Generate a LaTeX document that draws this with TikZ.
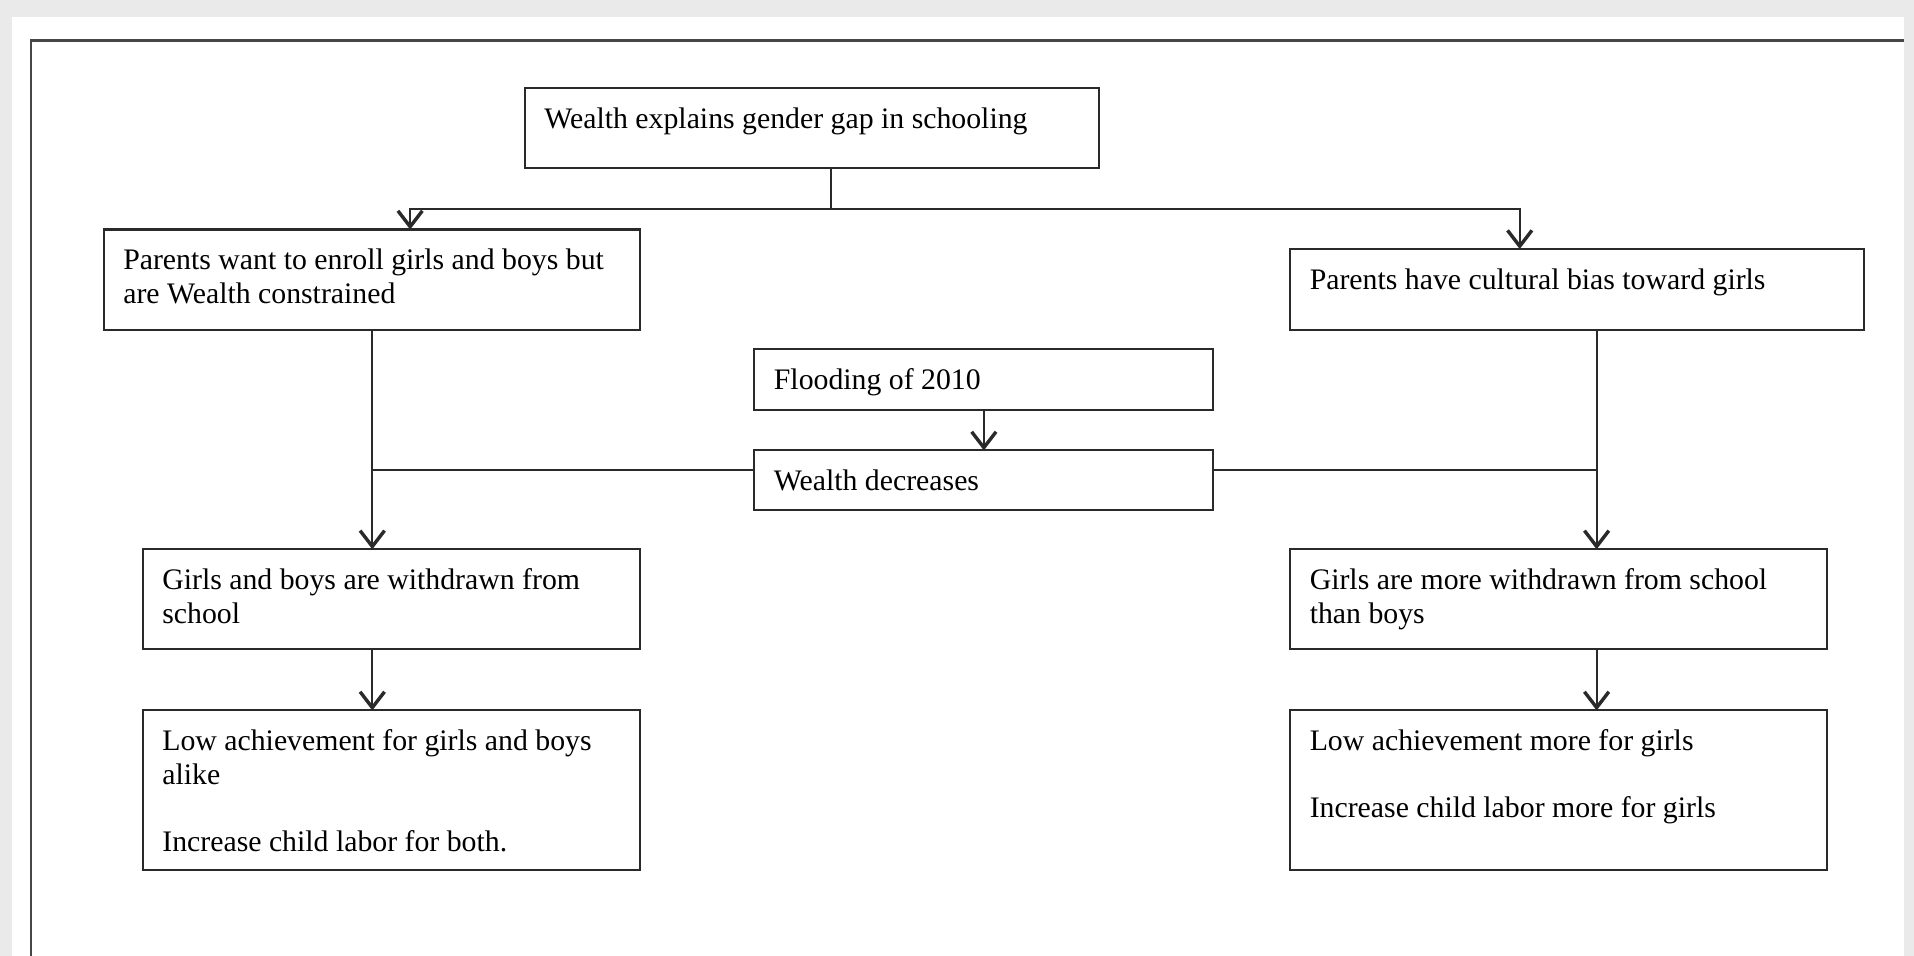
\documentclass[tikz,border=0pt]{standalone}
\usepackage{fontspec}
\setmainfont{Liberation Serif}
\usetikzlibrary{arrows.meta}
\definecolor{pagegray}{HTML}{EAEAEA}
\definecolor{ink}{HTML}{2A2A2A}
\newcommand{\boxtxt}[3]{\parbox[c][#2][t]{#1}{\raggedright\strut#3}}
\tikzset{
  flowbox/.style={draw=ink, line width=0.85pt, anchor=north west, inner xsep=8pt,
    inner ysep=7pt, outer sep=0pt, font=\fontsize{12.2}{13.7}\selectfont},
  link/.style={ink, line width=0.8pt},
  >={Straight Barb[length=6.5pt,width=10pt,line width=1.4pt]}
}
\begin{document}
\begin{tikzpicture}[x=0.5pt,y=-0.5pt]
\useasboundingbox (0,0) rectangle (1568,783);
\fill[pagegray] (0,0) rectangle (1568,783);
\fill[white] (10,14) rectangle (1560,783);
\draw[gray!55!black, line width=1pt] (25.5,783) -- (25.5,33) -- (1560,33);

\node[flowbox] (wealth) at (430,72) {\boxtxt{219pt}{19pt}{Wealth explains gender gap in schooling}};
\node[flowbox] (want) at (85,188) {\boxtxt{203.5pt}{27pt}{Parents want to enroll girls and boys but\\are Wealth constrained}};
\node[flowbox] (bias) at (1057,204) {\boxtxt{219pt}{19pt}{Parents have cultural bias toward girls}};
\node[flowbox] (flood) at (618,286) {\boxtxt{172pt}{11pt}{Flooding of 2010}};
\node[flowbox] (drop) at (618,369) {\boxtxt{172pt}{10.5pt}{Wealth decreases}};
\node[flowbox] (both) at (117,450) {\boxtxt{187.5pt}{27pt}{Girls and boys are withdrawn from\\school}};
\node[flowbox] (girls) at (1057,450) {\boxtxt{204pt}{27pt}{Girls are more withdrawn from school\\than boys}};
\node[flowbox] (lowboth) at (117,582) {\boxtxt{187.5pt}{51.5pt}{Low achievement for girls and boys\\alike\\[13.7pt]Increase child labor for both.}};
\node[flowbox] (lowgirls) at (1057,582) {\boxtxt{204pt}{51.5pt}{Low achievement more for girls\\[13.7pt]Increase child labor more for girls}};

\coordinate (fork) at (681,171);
\coordinate (wantin) at (336,0);
\coordinate (biasin) at (1245,0);
\coordinate (lcol) at (305,0);
\coordinate (rcol) at (1308,0);
\coordinate (mid) at (0,385);

\draw[link] (fork |- wealth.south) -- (fork);
\draw[link,->] (fork) -| (want.north -| wantin);
\draw[link,->] (fork) -| (bias.north -| biasin);
\draw[link,->] (flood.south) -- (drop.north);
\draw[link,->] (want.south -| lcol) -- (both.north -| lcol);
\draw[link,->] (bias.south -| rcol) -- (girls.north -| rcol);
\draw[link] (drop.west |- mid) -- (lcol |- mid);
\draw[link] (drop.east |- mid) -- (rcol |- mid);
\draw[link,->] (both.south -| lcol) -- (lowboth.north -| lcol);
\draw[link,->] (girls.south -| rcol) -- (lowgirls.north -| rcol);
\end{tikzpicture}
\end{document}
